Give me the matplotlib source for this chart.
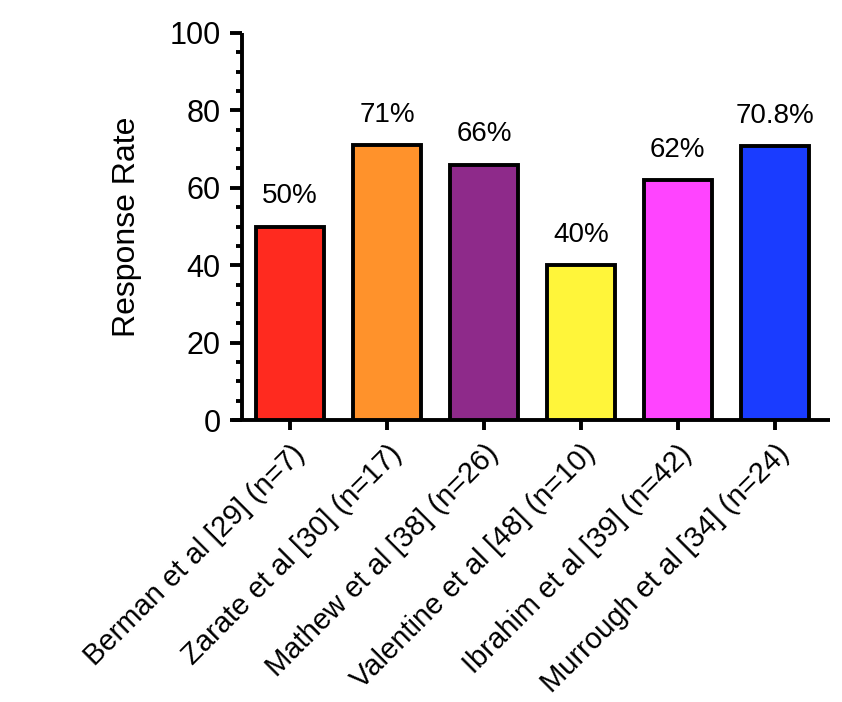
import matplotlib
matplotlib.use("Agg")
import matplotlib.pyplot as plt
from matplotlib.ticker import MultipleLocator

# data
studies = [
    "Berman et al [29] (n=7)",
    "Zarate et al [30] (n=17)",
    "Mathew et al [38] (n=26)",
    "Valentine et al [48] (n=10)",
    "Ibrahim et al [39] (n=42)",
    "Murrough et al [34] (n=24)",
]
response_rate = [50, 71, 66, 40, 62, 70.8]
value_labels = ["50%", "71%", "66%", "40%", "62%", "70.8%"]
bar_colors = ["#FF2A1F", "#FF922B", "#8E2A8A", "#FFF53A", "#FF44FF", "#1A3CFF"]

plt.rcParams["font.family"] = ["Liberation Sans", "DejaVu Sans"]

fig = plt.figure(figsize=(8.42, 7.02), dpi=100)
ax = fig.add_axes([232 / 842, 1 - 420 / 702, (830 - 232) / 842, (420 - 33) / 702])

x = list(range(len(studies)))
ax.bar(x, response_rate, width=0.7, color=bar_colors, edgecolor="black", linewidth=2.8, zorder=3)

for xi, v, lab in zip(x, response_rate, value_labels):
    ax.text(xi, v + 4.5, lab, ha="center", va="bottom", fontsize=20)

ax.set_xlim(-0.6, 5.57)
ax.set_ylim(0, 100)
ax.spines["left"].set_position(("data", -0.5))
ax.spines["left"].set_bounds(0, 100)
ax.spines["top"].set_visible(False)
ax.spines["right"].set_visible(False)
for s in ("left", "bottom"):
    ax.spines[s].set_linewidth(2.8)
    ax.spines[s].set_capstyle("butt")

ax.yaxis.set_major_locator(MultipleLocator(20))
ax.yaxis.set_minor_locator(MultipleLocator(5))
ax.tick_params(axis="y", which="major", length=9, width=2.8, labelsize=22, pad=6)
ax.tick_params(axis="y", which="minor", length=4.5, width=2.8)
ax.tick_params(axis="x", which="major", length=7, width=2.8, labelsize=21, pad=7)

ax.set_xticks(x)
ax.set_xticklabels(studies, rotation=45, ha="right", rotation_mode="anchor")
ax.set_ylabel("Response Rate", fontsize=23, labelpad=20)

fig.savefig("out.png", dpi=100)
